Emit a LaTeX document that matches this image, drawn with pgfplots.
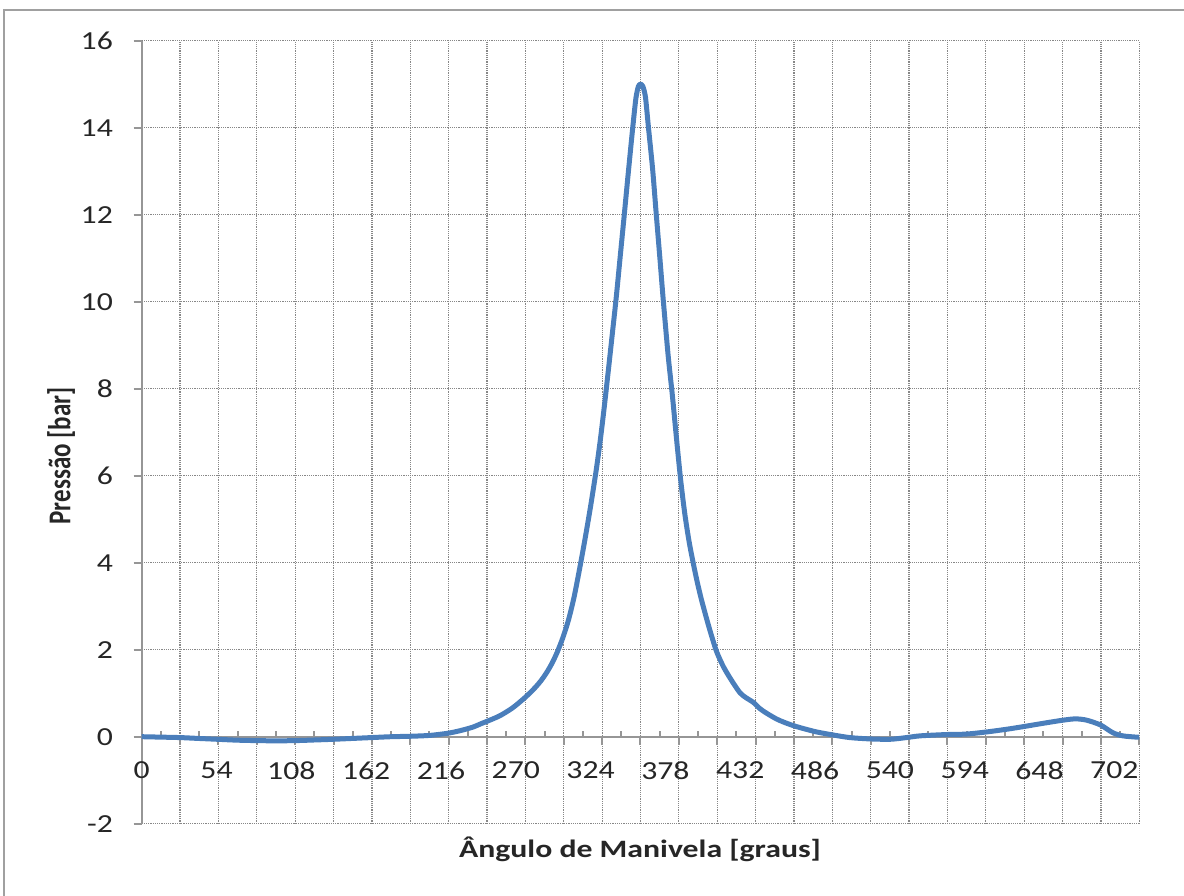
\documentclass[border=0pt]{standalone}
\usepackage{pgfplots}
\pgfplotsset{compat=1.18}
\usepackage{fontspec}
\setmainfont{Carlito}

\definecolor{curve}{RGB}{74,126,187}
\definecolor{gridgray}{RGB}{135,135,135}
\definecolor{axisgray}{RGB}{150,150,150}
\definecolor{framegray}{RGB}{160,160,160}

\begin{document}
\begin{tikzpicture}
\begin{axis}[
  at={(0pt,0pt)}, anchor=south west,
  scale only axis,
  width=498.8pt, height=391.5pt,
  xmin=0, xmax=720, ymin=-2, ymax=16,
  axis x line*=middle, axis y line*=left,
  hide obscured x ticks=false, hide obscured y ticks=false,
  axis line style={draw=axisgray, line width=1pt},
  % crank-angle gridlines: 26 equal divisions of the cycle
  xtick={0,27.6923,55.3846,83.0769,110.7692,138.4615,166.1538,193.8462,221.5385,249.2308,276.9231,304.6154,332.3077,360,387.6923,415.3846,443.0769,470.7692,498.4615,526.1538,553.8462,581.5385,609.2308,636.9231,664.6154,692.3077,720},
  xticklabels={},
  minor xtick={13.8462,41.5385,69.2308,96.9231,124.6154,152.3077,180,207.6923,235.3846,263.0769,290.7692,318.4615,346.1538,373.8462,401.5385,429.2308,456.9231,484.6154,512.3077,540,567.6923,595.3846,623.0769,650.7692,678.4615,706.1538},
  extra x ticks={0,54,108,162,216,270,324,378,432,486,540,594,648,702},
  extra x tick labels={0,54,108,162,216,270,324,378,432,486,540,594,648,702},
  extra x tick style={grid=none, major tick length=0pt,
    xticklabel style={yshift=-9pt}},
  ytick={-2,0,2,4,6,8,10,12,14,16},
  yticklabels={-2,0,2,4,6,8,10,12,14,16},
  tick align=outside,
  major tick length=4pt, minor tick length=2.8pt,
  tick style={draw=axisgray, line width=1pt},
  minor x tick style={yshift=2.8pt},
  grid=major,
  major grid style={draw=gridgray, line width=0.6pt, dash pattern=on 0.55pt off 0.55pt},
  ticklabel style={font=\fontsize{13pt}{15pt}\selectfont, text=black!85, xscale=1.22},
  yticklabel style={xshift=-5pt},
]
\addplot[curve, line width=2.5pt, line join=round, smooth, tension=0.45] coordinates {
(0,0) (14,-0.01) (27.6,-0.02) (41,-0.04) (55,-0.06) (69,-0.08) (83,-0.09)
(97,-0.095) (111,-0.09) (125,-0.075) (138,-0.06) (152,-0.04) (166,-0.02)
(180,0.0) (194,0.01) (208,0.03) (221,0.08) (230,0.14) (239,0.22) (245,0.30)
(252,0.39) (259,0.49) (268,0.67) (277,0.91) (284,1.13) (288,1.28) (292,1.46)
(296,1.68) (300,1.95) (304,2.28) (308,2.68) (312,3.2) (316,3.85) (320,4.55)
(324,5.3) (328,6.12) (331,6.82) (334,7.62) (337,8.48) (340,9.36) (342.5,10.1)
(345.7,11.15) (348.3,12.0) (351.3,13.0) (354.4,14.0) (356.7,14.68)
(358.5,14.95) (360,15.0) (361.7,14.95) (363.6,14.7) (365.7,14.02) (368.8,13.03)
(371.4,12.0) (374,11.0) (376.4,10.05) (380,8.75) (383,7.85) (386,6.85)
(389,5.9) (392,5.12) (395,4.5) (398,4.0) (401,3.55) (404,3.15) (408,2.68)
(411,2.35) (415,1.95) (420,1.6) (426,1.28) (431.8,1.01) (436,0.90)
(441.4,0.79) (446,0.65) (451,0.54) (458,0.41) (463,0.34) (468,0.28)
(475,0.21) (487,0.11) (499,0.04) (511,-0.02) (525,-0.05) (540,-0.06)
(552,-0.02) (562,0.02) (581,0.05) (595,0.06) (610,0.11) (624,0.17)
(636,0.23) (651,0.31) (665,0.38) (674,0.41) (682,0.38) (692,0.27)
(701,0.09) (708,0.02) (718,-0.01) (720,-0.01)
};
\end{axis}
% axis titles
\node[anchor=base, xscale=1.27, font=\fontsize{12.5pt}{15pt}\selectfont\bfseries, text=black!85]
  at (249.15pt,-16.8pt) {Ângulo de Manivela [graus]};
\node[anchor=base, rotate=90, font=\fontsize{12.5pt}{15pt}\selectfont\bfseries, text=black!85]
  at (-35.6pt,183.85pt) {\scalebox{1}[1.27]{Pressão [bar]}};
% chart area border
\draw[framegray, line width=0.8pt] (-68.85pt,-40pt) -- (-68.85pt,406.85pt) -- (530pt,406.85pt);
\pgfresetboundingbox
\useasboundingbox (-70.85pt,-35.65pt) rectangle (521.15pt,411.85pt);
\end{tikzpicture}
\end{document}
